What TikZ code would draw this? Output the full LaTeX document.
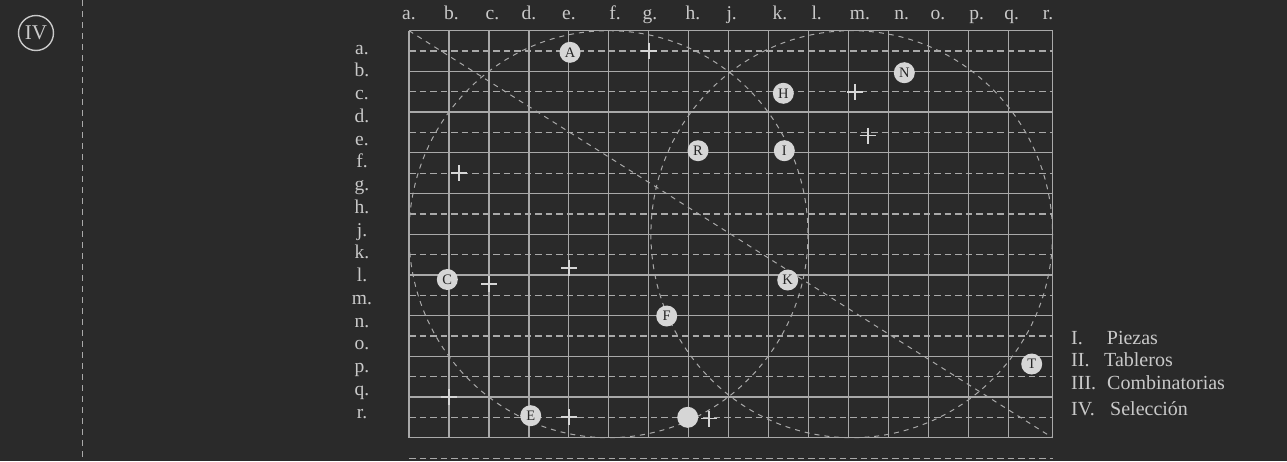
\documentclass[tikz,border=0pt]{standalone}
\usepackage{fontspec}
\setmainfont{Liberation Serif}
\definecolor{bgc}{HTML}{2A2A2A}
\definecolor{gridc}{HTML}{A9A9A9}
\definecolor{txtc}{HTML}{C9C9C9}
\definecolor{mkc}{HTML}{D6D6D6}
\definecolor{mktxt}{HTML}{262626}
\tikzset{
  gridline/.style={draw=gridc, line width=1.3pt},
  griddash/.style={draw=gridc, line width=1.3pt, dash pattern=on 6.5pt off 4pt},
  arcdash/.style={draw=gridc, line width=1pt, dash pattern=on 5pt off 5pt},
  sidedash/.style={draw=gridc, line width=1.2pt, dash pattern=on 6pt off 5pt},
  crossline/.style={draw=mkc, line width=1.8pt},
  lbl/.style={text=txtc, font=\fontsize{19.5}{19.5}\selectfont, inner sep=0pt, anchor=base},
  leg/.style={text=txtc, font=\fontsize{20}{20}\selectfont, inner sep=0pt, anchor=base west},
  mk/.style={circle, fill=mkc, minimum size=21pt, inner sep=0pt, text=mktxt, font=\fontsize{14.5}{14.5}\selectfont},
  plusmark/.pic={\draw[crossline] (-8,0) -- (8,0) (0,-8) -- (0,8);}
}
\begin{document}
\begin{tikzpicture}[x=1pt,y=-1pt]
\fill[bgc] (0,0) rectangle (1287,461);
\useasboundingbox (0,0) rectangle (1287,461);
% side elements
\node[draw=txtc, line width=1.4pt, circle, minimum size=35pt, inner sep=0pt, text=txtc, font=\fontsize{21}{21}\selectfont] (sel) at (36,33) {IV};
\draw[sidedash] (82.7,0) -- (82.7,461);
% grid
\foreach \i in {0,...,15} \draw[gridline] ({409+39.95*\i},30.7) -- ({409+39.95*\i},437.7);
\draw[gridline] (1052.5,30.7) -- (1052.5,437.7);
\foreach \j in {0,...,10} \draw[gridline] (409,{30.7+40.7*\j}) -- (1052.5,{30.7+40.7*\j});
\foreach \j in {0,...,9} \draw[griddash] (409,{51.05+40.7*\j}) -- (1052.5,{51.05+40.7*\j});
\draw[griddash] (409,458.7) -- (1052.5,458.7);
% circles and diagonal
\draw[arcdash] (608.5,234.2) ellipse [x radius=199.5, y radius=203.5];
\draw[arcdash] (851.7,234.2) ellipse [x radius=200.8, y radius=203.5];
\draw[arcdash] (409,30.7) -- (1052.5,437.7);
% column labels
\foreach \x/\t in {409/a,451.5/b,492.5/c,529/d,569/e,615/f,650/g,693/h,731.7/j,780/k,816.7/l,860/m,901.7/n,938/o,976.7/p,1011.7/q,1048/r}
  \node[lbl] (col\t) at (\x,19) {\t.};
% row labels
\foreach \t [count=\k from 0] in {a,b,c,d,e,f,g,h,j,k,l,m,n,o,p,q,r}
  \node[lbl] (row\t) at (362,{54+22.75*\k}) {\t.};
% crosses
\foreach \x/\y in {648.7/50.7,855/92.3,867.7/135.5,459/173.3,569/267.7,489/284,449/397.3,569/417.3,709/418.5}
  \pic at (\x,\y) {plusmark};
% markers
\node[mk] (A) at (570,52.3) {A};
\node[mk] (N) at (904.3,72.7) {N};
\node[mk] (H) at (783.3,93.3) {H};
\node[mk] (R) at (698,150.7) {R};
\node[mk] (I) at (784.3,150.7) {I};
\node[mk] (C) at (447.3,279.5) {C};
\node[mk] (K) at (787.7,280) {K};
\node[mk] (F) at (666.7,316) {F};
\node[mk] (E) at (530.7,415.7) {E};
\node[mk] (dot) at (687.7,417.3) {};
\node[mk] (T) at (1031.7,364) {T};
% legend
\node[leg] (l1a) at (1071,344.3) {I.};
\node[leg] (l1b) at (1106.7,344.3) {Piezas};
\node[leg] (l2a) at (1071,366) {II.};
\node[leg] (l2b) at (1104,366) {Tableros};
\node[leg] (l3a) at (1071,389) {III.};
\node[leg] (l3b) at (1107,389) {Combinatorias};
\node[leg] (l4a) at (1071,415) {IV.};
\node[leg] (l4b) at (1110,415) {Selección};
\end{tikzpicture}
\end{document}
